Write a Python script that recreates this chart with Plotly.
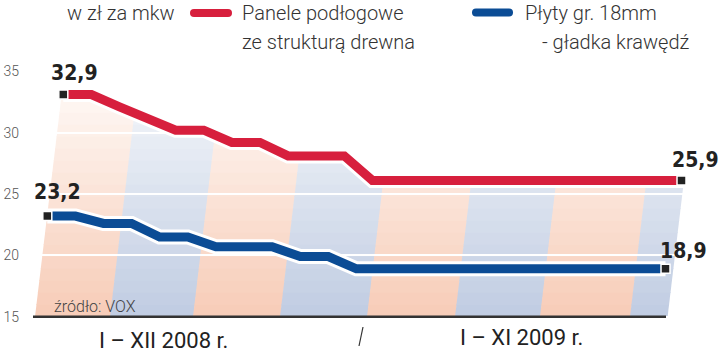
import plotly.graph_objects as go

# ---------------- data ----------------
roman = ["I", "II", "III", "IV", "V", "VI", "VII", "VIII", "IX", "X", "XI", "XII"]
months = [f"{m} 2008" for m in roman] + [f"{m} 2009" for m in roman[:11]]

panele = [32.9, 32.9, 31.9, 31.0, 30.0, 30.0, 29.0, 29.0, 27.9, 27.9, 27.9,
          25.9, 25.9, 25.9, 25.9, 25.9, 25.9, 25.9, 25.9, 25.9, 25.9, 25.9, 25.9]
plyty = [23.2, 23.2, 22.6, 22.6, 21.5, 21.5, 20.7, 20.7, 20.7, 19.9, 19.9,
         18.9, 18.9, 18.9, 18.9, 18.9, 18.9, 18.9, 18.9, 18.9, 18.9, 18.9, 18.9]
y_ticks = [15, 20, 25, 30, 35]

series_names = ["Panele podłogowe<br>ze strukturą drewna", "Płyty gr. 18mm<br> - gładka krawędź"]
unit_label = "w zł za mkw"
period_labels = ["I – XII 2008 r.", "I – XI 2009 r."]
source_label = "źródło: VOX"

# ---------------- geometry / style ----------------
W, H = 720, 353
X0, STEP = 47.3, 28.1          # px of first month, px per month (blue series)
RED_SHIFT, RED_LIFT = 16.0, 2.5  # perspective offset of the red series
Y15, PPU = 316.7, 12.27        # px of value 15, px per unit

RED = "#d71f3d"
BLUE = "#0b4c95"
DARK = "#222222"


def X(px):
    return px / W


def Y(py):
    return 1 - py / H


n = len(months)
x_lo, x_hi = -X0 / STEP, (W - X0) / STEP
x2_lo, x2_hi = -(X0 + RED_SHIFT) / STEP, (W - X0 - RED_SHIFT) / STEP
y_lo, y_hi = 15 - (H - Y15) / PPU, 15 + Y15 / PPU
y2_lo, y2_hi = 15 - (H - Y15 + RED_LIFT) / PPU, 15 + (Y15 - RED_LIFT) / PPU

fig = go.Figure()

# hidden ceiling for the white mask above the red line
fig.add_trace(go.Scatter(x=months, y=[y2_hi] * n, xaxis="x2", yaxis="y2", mode="lines",
                         line=dict(width=0, color="white"), hoverinfo="skip", showlegend=False))
# red halo + mask
fig.add_trace(go.Scatter(x=months, y=panele, xaxis="x2", yaxis="y2", mode="lines",
                         line=dict(color="white", width=15), fill="tonexty", fillcolor="white",
                         hoverinfo="skip", showlegend=False))
fig.add_trace(go.Scatter(x=months, y=panele, xaxis="x2", yaxis="y2", mode="lines",
                         line=dict(color=RED, width=9), name="Panele", showlegend=False))
# blue
fig.add_trace(go.Scatter(x=months, y=plyty, mode="lines",
                         line=dict(color="white", width=15), hoverinfo="skip", showlegend=False))
fig.add_trace(go.Scatter(x=months, y=plyty, mode="lines",
                         line=dict(color=BLUE, width=9), name="Płyty", showlegend=False))
# end markers
fig.add_trace(go.Scatter(x=[months[0], months[-1]], y=[panele[0], panele[-1]], xaxis="x2", yaxis="y2",
                         mode="markers", marker=dict(symbol="square", size=9, color=DARK,
                                                     line=dict(color="white", width=1.5)),
                         hoverinfo="skip", showlegend=False))
fig.add_trace(go.Scatter(x=[months[0], months[-1]], y=[plyty[0], plyty[-1]],
                         mode="markers", marker=dict(symbol="square", size=9, color=DARK,
                                                     line=dict(color="white", width=1.5)),
                         hoverinfo="skip", showlegend=False))

# ---------------- background bands (slanted, faded) ----------------
band_edges = [35, 110, 193, 280, 367, 455, 540, 630, 667]
band_tops = [100, 100, 100, 100, 100, 100, 100, 188]
SLANT = 0.12
peach_bot, peach_top = (247, 204, 183), (254, 247, 243)
blue_bot, blue_top = (192, 204, 226), (242, 245, 249)
FADE_TOP = 95
SLICE = 12

shapes = []
for b in range(len(band_edges) - 1):
    xl, xr = band_edges[b], band_edges[b + 1] + 0.6
    c_bot, c_top = (peach_bot, peach_top) if b % 2 == 0 else (blue_bot, blue_top)
    top = band_tops[b]
    pa = Y15
    while pa > top:
        pb = max(pa - SLICE, top)
        mid = (pa + pb) / 2
        t = min(max((Y15 - mid) / (Y15 - FADE_TOP), 0), 1)
        col = tuple(round(c_bot[i] + (c_top[i] - c_bot[i]) * t) for i in range(3))
        pb_ov = max(pb - 0.7, top)
        sa, sb = SLANT * (Y15 - pa), SLANT * (Y15 - pb_ov)
        path = (f"M {X(xl + sa)},{Y(pa)} L {X(xr + sa)},{Y(pa)} "
                f"L {X(xr + sb)},{Y(pb_ov)} L {X(xl + sb)},{Y(pb_ov)} Z")
        shapes.append(dict(type="path", xref="paper", yref="paper", path=path,
                           fillcolor=f"rgb{col}", line=dict(width=0), layer="below"))
        pa = pb

# baseline and separator
shapes.append(dict(type="line", xref="paper", yref="paper", x0=X(33), x1=X(666), y0=Y(Y15), y1=Y(Y15),
                   line=dict(color="#333333", width=2.5), layer="above"))
shapes.append(dict(type="line", xref="paper", yref="paper", x0=X(363), x1=X(359), y0=Y(327), y1=Y(346),
                   line=dict(color="#333333", width=1.2), layer="above"))


def capsule(xl, xr, yc, r, color):
    yt, yb = yc - r, yc + r
    p = (f"M {X(xl + r)},{Y(yt)} L {X(xr - r)},{Y(yt)} Q {X(xr)},{Y(yt)} {X(xr)},{Y(yc)} "
         f"Q {X(xr)},{Y(yb)} {X(xr - r)},{Y(yb)} L {X(xl + r)},{Y(yb)} "
         f"Q {X(xl)},{Y(yb)} {X(xl)},{Y(yc)} Q {X(xl)},{Y(yt)} {X(xl + r)},{Y(yt)} Z")
    return dict(type="path", xref="paper", yref="paper", path=p, fillcolor=color,
                line=dict(width=0), layer="above")


shapes.append(capsule(190, 232, 13, 4, RED))
shapes.append(capsule(472, 513, 12.5, 4, BLUE))

# ---------------- annotations ----------------
TXT = dict(family="Roboto, Lato, sans-serif", size=20, color="#333333", weight=300)
VAL = dict(family="DejaVu Sans Condensed, Liberation Sans Narrow, Roboto, sans-serif",
           size=21, color=DARK, weight=700)


def fmt(v):
    return f"{v:.1f}".replace(".", ",")


l1, l2 = series_names[0].split("<br>")
b1, b2 = series_names[1].split("<br>")
ann = [
    dict(text=unit_label, x=X(65), y=Y(13), xref="paper", yref="paper", xanchor="left", yanchor="middle",
         showarrow=False, font=TXT),
    dict(text=l1, x=X(240), y=Y(13), xref="paper", yref="paper", xanchor="left", yanchor="middle",
         showarrow=False, font=TXT),
    dict(text=l2, x=X(240), y=Y(42), xref="paper", yref="paper", xanchor="left", yanchor="middle",
         showarrow=False, font=TXT),
    dict(text=b1, x=X(523), y=Y(13), xref="paper", yref="paper", xanchor="left", yanchor="middle",
         showarrow=False, font=TXT),
    dict(text=b2.strip(), x=X(540), y=Y(42), xref="paper", yref="paper", xanchor="left", yanchor="middle",
         showarrow=False, font=TXT),
    dict(text=period_labels[0], x=X(163.5), y=Y(340), xref="paper", yref="paper", xanchor="center",
         yanchor="middle", showarrow=False, font=dict(family="Roboto, sans-serif", size=22, color=DARK)),
    dict(text=period_labels[1], x=X(521), y=Y(337), xref="paper", yref="paper", xanchor="center",
         yanchor="middle", showarrow=False, font=dict(family="Roboto, sans-serif", size=22, color=DARK)),
    dict(text=source_label, x=X(52), y=Y(306), xref="paper", yref="paper", xanchor="left",
         yanchor="middle", showarrow=False,
         font=dict(family="Roboto, sans-serif", size=16, color="#444444", weight=300)),
    # value labels
    dict(text=fmt(panele[0]), x=months[0], y=panele[0], xref="x2", yref="y2", xshift=11, yshift=22,
         showarrow=False, font=VAL),
    dict(text=fmt(panele[-1]), x=months[-1], y=panele[-1], xref="x2", yref="y2", xshift=14, yshift=20,
         showarrow=False, font=VAL),
    dict(text=fmt(plyty[0]), x=months[0], y=plyty[0], xref="x", yref="y", xshift=10, yshift=24,
         showarrow=False, font=VAL),
    dict(text=fmt(plyty[-1]), x=months[-1], y=plyty[-1], xref="x", yref="y", xshift=18, yshift=18,
         showarrow=False, font=VAL),
]

fig.update_layout(
    width=W, height=H, margin=dict(l=0, r=0, t=0, b=0),
    paper_bgcolor="white", plot_bgcolor="rgba(0,0,0,0)",
    showlegend=False, shapes=shapes, annotations=ann,
    xaxis=dict(type="category", categoryorder="array", categoryarray=months, range=[x_lo, x_hi],
               domain=[0, 1], visible=False),
    xaxis2=dict(type="category", categoryorder="array", categoryarray=months, range=[x2_lo, x2_hi],
                domain=[0, 1], overlaying="x", visible=False),
    yaxis=dict(range=[y_lo, y_hi], domain=[0, 1], tickvals=y_ticks, ticktext=[str(v) for v in y_ticks],
               showgrid=True, gridcolor="white", gridwidth=1.5, zeroline=False, showline=False,
               ticks="", anchor="free", position=X(19),
               tickfont=dict(family="Roboto, sans-serif", size=14, color="#555555", weight=300)),
    yaxis2=dict(range=[y2_lo, y2_hi], domain=[0, 1], overlaying="y", visible=False, showgrid=False),
)

fig.write_html("out.html")
